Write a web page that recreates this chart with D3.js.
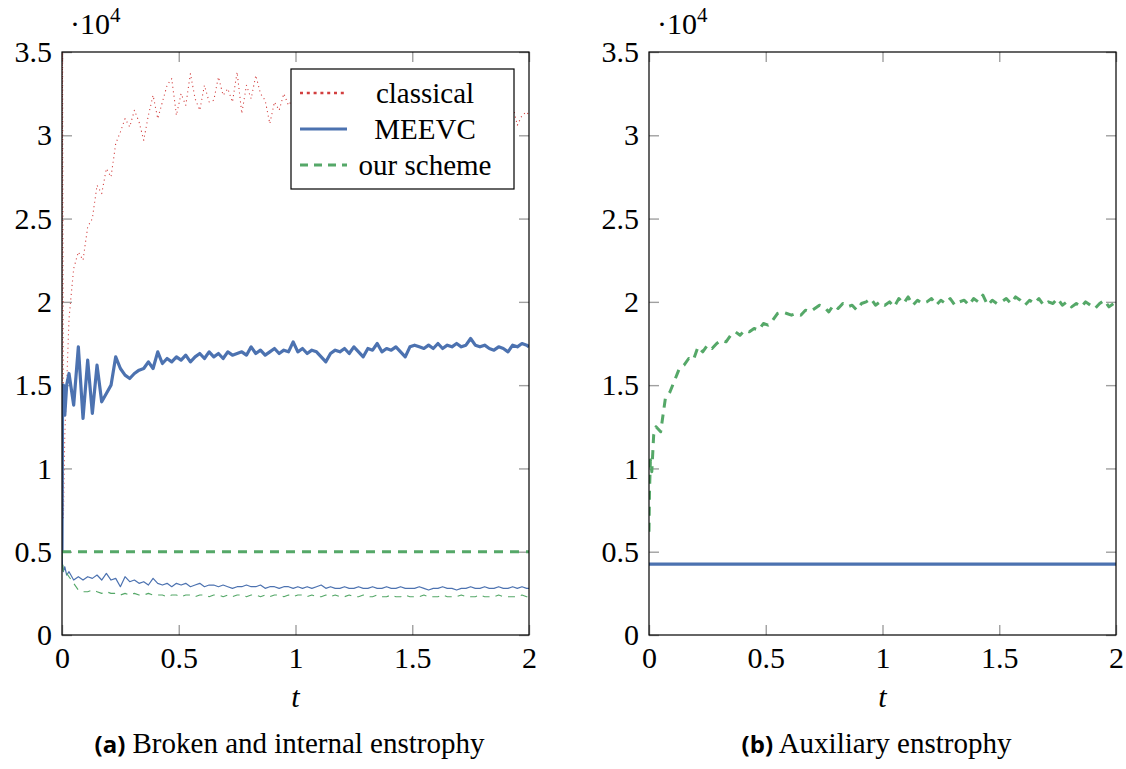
<!DOCTYPE html>
<html>
<head>
<meta charset="utf-8">
<script src="https://cdn.jsdelivr.net/npm/d3@7"></script>
<style>
  body { margin: 0; background: #fff; }
  svg text { font-family: "Liberation Serif", "Times New Roman", serif; fill: #000; }
</style>
</head>
<body>
<svg id="chart" width="1126" height="769"></svg>
<script>
// ---------- data (values in units of 1e4) ----------
const tEarly = [0, 0.002, 0.006, 0.012, 0.02];
const tTimes = tEarly.concat(d3.range(0.03, 1.995, 0.02), [2]);   // shared sampling times

const xTicks = [0, 0.5, 1, 1.5, 2];
const xTickLabels = ["0", "0.5", "1", "1.5", "2"];
const yTicks = [0, 0.5, 1, 1.5, 2, 2.5, 3, 3.5];
const yTickLabels = ["0", "0.5", "1", "1.5", "2", "2.5", "3", "3.5"];

const legendLabels = ["classical", "MEEVC", "our scheme"];

// panel (a): broken enstrophy, classical scheme
const classical = [
  0.5, 3.9, 0.7, 1.2, 1.5,
  1.9, 2.2, 2.3, 2.25, 2.45, 2.5, 2.7, 2.65, 2.8, 2.75,
  2.95, 3.02, 3.1, 3.05, 3.15, 3.08, 2.97, 3.12, 3.24, 3.1,
  3.2, 3.3, 3.34, 3.12, 3.25, 3.18, 3.37, 3.22, 3.15, 3.3,
  3.2, 3.21, 3.35, 3.24, 3.28, 3.2, 3.38, 3.13, 3.3, 3.22,
  3.36, 3.25, 3.21, 3.07, 3.2, 3.15, 3.25, 3.18, 3.22, 3.12,
  3.2, 3.1, 3.25, 3.15, 3.18, 3.08, 3.22, 3.14, 3.2, 3.1,
  3.16, 3.24, 3.12, 3.18, 3.1, 3.2, 3.15, 3.08, 3.2, 3.14,
  3.18, 3.1, 3.22, 3.12, 3.16, 3.06, 3.2, 3.12, 3.15, 3.1,
  3.18, 3.08, 3.14, 3.2, 3.1, 3.16, 3.06, 3.14, 3.18, 3.1,
  3.12, 3.2, 3.08, 3.15, 3.1, 3.18, 3.06, 3.12, 3.14,
  3.12
];

// panel (a): MEEVC broken enstrophy (thick)
const meevcBroken = [
  0.5, 1.3, 1.5, 1.32, 1.5,
  1.57, 1.38, 1.73, 1.3, 1.65, 1.33, 1.62, 1.4, 1.45, 1.5,
  1.67, 1.6, 1.56, 1.54, 1.57, 1.59, 1.6, 1.64, 1.6, 1.7,
  1.63, 1.66, 1.64, 1.67, 1.65, 1.68, 1.64, 1.67, 1.69, 1.66,
  1.7, 1.67, 1.69, 1.66, 1.7, 1.68, 1.69, 1.7, 1.68, 1.73,
  1.69, 1.71, 1.68, 1.7, 1.72, 1.69, 1.71, 1.7, 1.76, 1.7,
  1.72, 1.69, 1.71, 1.7, 1.67, 1.64, 1.69, 1.71, 1.7, 1.72,
  1.69, 1.73, 1.7, 1.67, 1.72, 1.71, 1.75, 1.7, 1.72, 1.71,
  1.73, 1.7, 1.67, 1.73, 1.74, 1.73, 1.72, 1.74, 1.72, 1.75,
  1.72, 1.74, 1.73, 1.75, 1.73, 1.74, 1.78, 1.74, 1.73, 1.74,
  1.72, 1.71, 1.73, 1.72, 1.7, 1.74, 1.73, 1.75, 1.74,
  1.73
];

// panel (a): MEEVC internal enstrophy (thin)
const meevcInternal = [
  0.5, 0.42, 0.38, 0.41, 0.36,
  0.38, 0.33, 0.35, 0.33, 0.35, 0.34, 0.36, 0.33, 0.37, 0.33,
  0.34, 0.29, 0.35, 0.32, 0.33, 0.31, 0.32, 0.3, 0.34, 0.31,
  0.3, 0.31, 0.29, 0.31, 0.3, 0.31, 0.29, 0.3, 0.31, 0.29,
  0.3, 0.3, 0.29, 0.3, 0.29, 0.28, 0.29, 0.29, 0.3, 0.29,
  0.29, 0.3, 0.28, 0.29, 0.29, 0.28, 0.29, 0.29, 0.28, 0.29,
  0.28, 0.29, 0.28, 0.29, 0.3, 0.28, 0.29, 0.28, 0.28, 0.29,
  0.28, 0.28, 0.29, 0.28, 0.28, 0.29, 0.28, 0.28, 0.29, 0.28,
  0.28, 0.29, 0.28, 0.28, 0.28, 0.29, 0.28, 0.27, 0.28, 0.28,
  0.29, 0.28, 0.28, 0.27, 0.28, 0.28, 0.29, 0.28, 0.28, 0.29,
  0.28, 0.28, 0.29, 0.28, 0.28, 0.29, 0.28, 0.29, 0.28,
  0.28
];

// panel (a): our scheme internal enstrophy (thin dashed)
const oursInternal = [
  0.5, 0.45, 0.38, 0.36, 0.37,
  0.35, 0.31, 0.27, 0.26, 0.26, 0.27, 0.26, 0.25, 0.26, 0.25,
  0.25, 0.24, 0.25, 0.24, 0.25, 0.24, 0.24, 0.25, 0.24, 0.24,
  0.24, 0.23, 0.24, 0.24, 0.23, 0.24, 0.24, 0.23, 0.24, 0.24,
  0.23, 0.24, 0.24, 0.23, 0.24, 0.23, 0.24, 0.24, 0.23, 0.24,
  0.24, 0.23, 0.24, 0.23, 0.24, 0.24, 0.23, 0.24, 0.23, 0.24,
  0.24, 0.23, 0.24, 0.23, 0.23, 0.24, 0.23, 0.24, 0.23, 0.23,
  0.24, 0.23, 0.23, 0.24, 0.23, 0.23, 0.24, 0.23, 0.23, 0.24,
  0.23, 0.23, 0.24, 0.23, 0.23, 0.23, 0.24, 0.23, 0.23, 0.23,
  0.24, 0.23, 0.23, 0.23, 0.24, 0.23, 0.23, 0.23, 0.24, 0.23,
  0.23, 0.23, 0.24, 0.23, 0.23, 0.23, 0.23, 0.24, 0.23,
  0.23
];

// panel (a): our scheme broken enstrophy (constant, thick dashed)
const tConst = [0, 2];
const oursBroken = [0.5, 0.5];

// panel (b): auxiliary enstrophy
const meevcAux = [0.425, 0.425];
const oursAux = [
  0.62, 0.85, 1.05, 0.98, 1.2,
  1.25, 1.22, 1.42, 1.46, 1.53, 1.6, 1.62, 1.66, 1.65, 1.73,
  1.7, 1.74, 1.72, 1.75, 1.77, 1.76, 1.8, 1.82, 1.8, 1.83,
  1.82, 1.84, 1.83, 1.87, 1.86, 1.89, 1.93, 1.94, 1.93, 1.92,
  1.93, 1.92, 1.95, 1.94, 1.96, 1.98, 1.97, 1.94, 1.98, 1.96,
  1.99, 1.97, 1.98, 1.95, 1.99, 2.0, 2.02, 1.98, 2.0, 1.98,
  2.0, 1.97, 2.02, 1.99, 2.03, 1.98, 2.01, 1.99, 2.0, 2.02,
  1.98, 2.01, 1.99, 2.02, 1.98, 2.0, 2.01, 1.98, 2.02, 2.0,
  2.04, 1.98, 2.01, 1.99, 2.0, 2.02, 1.99, 2.03, 2.01, 1.98,
  2.01, 1.99, 2.02, 1.98, 2.0, 1.99, 2.02, 1.98, 2.0, 1.97,
  1.99, 1.97, 2.0, 1.98, 1.96, 1.99, 2.01, 1.97, 1.99,
  1.97
];

// ---------- styles ----------
const red = "#d23f3f", blue = "#4c72b0", green = "#55a868";
const styles = {
  classical: { stroke: red, width: 1.1, dash: "1.1,3.4" },
  meevcThick: { stroke: blue, width: 3.2, dash: null },
  meevcThin: { stroke: blue, width: 1.2, dash: null },
  oursThick: { stroke: green, width: 3, dash: "9,7" },
  oursThin: { stroke: green, width: 1.1, dash: "7,6" }
};

const svg = d3.select("#chart");
const panelW = 467, panelH = 583, plotTop = 52;

const drawPanel = (x0, id, series, caption) => {
  const x = d3.scaleLinear().domain([0, 2]).range([x0, x0 + panelW]);
  const y = d3.scaleLinear().domain([0, 3.5]).range([plotTop + panelH, plotTop]);

  const g = svg.append("g");

  // clip region
  g.append("clipPath").attr("id", "clip-" + id)
    .append("rect")
    .attr("x", x0).attr("y", plotTop).attr("width", panelW).attr("height", panelH);

  // ticks on all four sides, pointing inward
  const axes = [
    { ax: d3.axisLeft(y).tickValues(yTicks).tickFormat((d, i) => yTickLabels[i]), tr: `translate(${x0},0)` },
    { ax: d3.axisRight(y).tickValues(yTicks).tickFormat(""), tr: `translate(${x0 + panelW},0)` },
    { ax: d3.axisBottom(x).tickValues(xTicks).tickFormat((d, i) => xTickLabels[i]), tr: `translate(0,${plotTop + panelH})` },
    { ax: d3.axisTop(x).tickValues(xTicks).tickFormat(""), tr: `translate(0,${plotTop})` }
  ];
  axes.forEach((a, k) => {
    const ag = g.append("g").attr("transform", a.tr)
      .call(a.ax.tickSize(-10).tickSizeOuter(0).tickPadding(k === 2 ? 12 : 10));
    ag.select(".domain").remove();
    ag.selectAll(".tick line").attr("stroke", "#a0a0a0").attr("stroke-width", 1.4);
    ag.selectAll(".tick text")
      .style("font-family", '"Liberation Serif", serif')
      .style("font-size", "30px");
  });

  // series
  const line = d3.line().x(d => x(d[0])).y(d => y(d[1]));
  const plot = g.append("g").attr("clip-path", `url(#clip-${id})`);
  series.forEach(s => {
    const st = styles[s.style];
    plot.append("path")
      .datum(d3.zip(s.t, s.v))
      .attr("d", line)
      .attr("fill", "none")
      .attr("stroke", st.stroke)
      .attr("stroke-width", st.width)
      .attr("stroke-dasharray", st.dash)
      .attr("stroke-linejoin", "round");
  });

  // frame
  g.append("rect")
    .attr("x", x0).attr("y", plotTop).attr("width", panelW).attr("height", panelH)
    .attr("fill", "none").attr("stroke", "#000").attr("stroke-width", 1.2);

  // scale factor ·10^4
  const sf = g.append("text").attr("x", x0 + 8).attr("y", 34).style("font-size", "30px");
  sf.append("tspan").text("·10");
  sf.append("tspan").attr("dy", -12).style("font-size", "21px").text("4");

  // x label
  g.append("text")
    .attr("x", x0 + panelW / 2).attr("y", 707)
    .attr("text-anchor", "middle")
    .style("font-size", "30px").style("font-style", "italic")
    .text("t");

  // caption
  const cap = g.append("text")
    .attr("x", x0 + panelW / 2 - 6).attr("y", 753)
    .attr("text-anchor", "middle")
    .style("font-size", "29px");
  cap.append("tspan")
    .style("font-family", '"Open Sans", sans-serif').style("font-weight", "700").style("font-size", "24px")
    .text(caption[0]);
  cap.append("tspan").text(" " + caption[1]);

  return { x, y, g };
};

// ---------- panel (a) ----------
const pa = drawPanel(62, "a", [
  { t: tTimes, v: classical, style: "classical" },
  { t: tTimes, v: meevcBroken, style: "meevcThick" },
  { t: tConst, v: oursBroken, style: "oursThick" },
  { t: tTimes, v: meevcInternal, style: "meevcThin" },
  { t: tTimes, v: oursInternal, style: "oursThin" }
], ["(a)", "Broken and internal enstrophy"]);

// legend
const legend = pa.g.append("g").attr("transform", "translate(291,69)");
legend.append("rect")
  .attr("width", 223).attr("height", 120)
  .attr("fill", "#fff").attr("stroke", "#000").attr("stroke-width", 1.2);
const legendStyles = [
  { stroke: red, width: 2.6, dash: "3,3.8" },
  { stroke: blue, width: 3, dash: null },
  { stroke: green, width: 3, dash: "8,6" }
];
legendLabels.forEach((lab, i) => {
  const ly = 24 + i * 36;
  legend.append("line")
    .attr("x1", 9).attr("x2", 56).attr("y1", ly).attr("y2", ly)
    .attr("stroke", legendStyles[i].stroke)
    .attr("stroke-width", legendStyles[i].width)
    .attr("stroke-dasharray", legendStyles[i].dash);
  legend.append("text")
    .attr("x", 134).attr("y", ly).attr("dy", "0.33em")
    .attr("text-anchor", "middle")
    .style("font-size", "29px")
    .text(lab);
});

// ---------- panel (b) ----------
drawPanel(649, "b", [
  { t: tTimes, v: oursAux, style: "oursThick" },
  { t: tConst, v: meevcAux, style: "meevcThick" }
], ["(b)", "Auxiliary enstrophy"]);
</script>
</body>
</html>
